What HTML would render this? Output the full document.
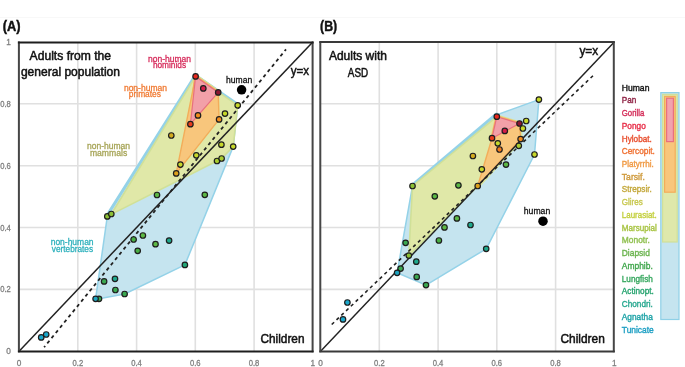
<!DOCTYPE html>
<html><head><meta charset="utf-8"><style>
html,body{margin:0;padding:0;background:#fff;width:685px;height:367px;overflow:hidden}
svg{display:block;font-family:"Liberation Sans",sans-serif;will-change:transform}
</style></head><body>
<svg width="685" height="367" viewBox="0 0 685 367">
<rect width="685" height="367" fill="#fff"/>
<line x1="0" y1="17.5" x2="685" y2="17.5" stroke="#f8f8f8" stroke-width="1"/>
<line x1="77.8" y1="42.0" x2="77.8" y2="351.2" stroke="#e0e0e0" stroke-width="1.6"/>
<line x1="19.1" y1="289.4" x2="312.8" y2="289.4" stroke="#e0e0e0" stroke-width="1.6"/>
<line x1="136.6" y1="42.0" x2="136.6" y2="351.2" stroke="#e0e0e0" stroke-width="1.6"/>
<line x1="19.1" y1="227.5" x2="312.8" y2="227.5" stroke="#e0e0e0" stroke-width="1.6"/>
<line x1="195.3" y1="42.0" x2="195.3" y2="351.2" stroke="#e0e0e0" stroke-width="1.6"/>
<line x1="19.1" y1="165.7" x2="312.8" y2="165.7" stroke="#e0e0e0" stroke-width="1.6"/>
<line x1="254.1" y1="42.0" x2="254.1" y2="351.2" stroke="#e0e0e0" stroke-width="1.6"/>
<line x1="19.1" y1="103.8" x2="312.8" y2="103.8" stroke="#e0e0e0" stroke-width="1.6"/>
<polyline points="237.7,105.3 195.6,76.4 107.3,216.4" fill="none" stroke="#94d2e8" stroke-width="4.6" stroke-linejoin="round" stroke-linecap="round"/>
<polygon points="195.6,76.4 237.7,105.3 233.2,146.6 184.9,264.9 124.6,294.0 99.0,298.8 95.6,298.8 107.3,216.4" fill="#c5e4ef" stroke="#94d2e8" stroke-width="1.5" stroke-linejoin="round"/>
<polygon points="195.6,76.4 218.2,92.4 219.1,119.4 176.2,173.4" fill="none" stroke="#d6e49e" stroke-width="4.5" stroke-linejoin="round"/>
<polygon points="195.6,76.4 237.7,105.3 233.2,146.6 221.6,158.5 217.0,161.0 107.3,216.4 111.3,214.0" fill="#e0e8a8" stroke="#d0e098" stroke-width="1.6" stroke-linejoin="round"/>
<polygon points="195.6,76.4 218.2,92.4 190.4,124.2" fill="none" stroke="#f5b866" stroke-width="3.0" stroke-linejoin="round"/>
<polygon points="195.6,76.4 218.2,92.4 219.1,119.4 176.2,173.4" fill="#f8c67c" stroke="#f3ad5a" stroke-width="1.4" stroke-linejoin="round"/>
<polygon points="195.6,76.4 218.2,92.4 190.4,124.2" fill="#f2a0a8" stroke="#e8707e" stroke-width="1.2" stroke-linejoin="round"/>
<line x1="19.1" y1="351.2" x2="312.8" y2="42.0" stroke="#222" stroke-width="1.5"/>
<line x1="44.1" y1="347.3" x2="286.0" y2="49.4" stroke="#222" stroke-width="1.8" stroke-dasharray="3.4 3.325" stroke-dashoffset="1.7"/>
<circle cx="195.6" cy="76.4" r="2.75" fill="#e8281e" stroke="#1e1e1e" stroke-width="1.2"/>
<circle cx="203.3" cy="88.4" r="2.75" fill="#d41c48" stroke="#1e1e1e" stroke-width="1.2"/>
<circle cx="218.2" cy="92.4" r="2.75" fill="#8c1630" stroke="#1e1e1e" stroke-width="1.2"/>
<circle cx="190.4" cy="124.2" r="2.75" fill="#ea3c1c" stroke="#1e1e1e" stroke-width="1.2"/>
<circle cx="198.0" cy="115.4" r="2.75" fill="#f28c1c" stroke="#1e1e1e" stroke-width="1.2"/>
<circle cx="219.1" cy="119.4" r="2.75" fill="#f28c1c" stroke="#1e1e1e" stroke-width="1.2"/>
<circle cx="176.2" cy="173.4" r="2.75" fill="#dca01c" stroke="#1e1e1e" stroke-width="1.2"/>
<circle cx="171.3" cy="135.5" r="2.75" fill="#d2aa1e" stroke="#1e1e1e" stroke-width="1.2"/>
<circle cx="237.7" cy="105.3" r="2.75" fill="#c6d82a" stroke="#1e1e1e" stroke-width="1.2"/>
<circle cx="225.0" cy="113.6" r="2.75" fill="#c6d82a" stroke="#1e1e1e" stroke-width="1.2"/>
<circle cx="221.4" cy="144.7" r="2.75" fill="#c6d82a" stroke="#1e1e1e" stroke-width="1.2"/>
<circle cx="233.2" cy="146.6" r="2.75" fill="#c6d82a" stroke="#1e1e1e" stroke-width="1.2"/>
<circle cx="196.3" cy="155.3" r="2.75" fill="#c6d82a" stroke="#1e1e1e" stroke-width="1.2"/>
<circle cx="180.4" cy="164.6" r="2.75" fill="#c6d82a" stroke="#1e1e1e" stroke-width="1.2"/>
<circle cx="217.0" cy="161.0" r="2.75" fill="#a8cc30" stroke="#1e1e1e" stroke-width="1.2"/>
<circle cx="221.6" cy="158.5" r="2.75" fill="#a8cc30" stroke="#1e1e1e" stroke-width="1.2"/>
<circle cx="107.3" cy="216.4" r="2.75" fill="#8cc034" stroke="#1e1e1e" stroke-width="1.2"/>
<circle cx="111.3" cy="214.0" r="2.75" fill="#8cc034" stroke="#1e1e1e" stroke-width="1.2"/>
<circle cx="157.0" cy="195.0" r="2.75" fill="#5cb845" stroke="#1e1e1e" stroke-width="1.2"/>
<circle cx="204.8" cy="194.8" r="2.75" fill="#5cb845" stroke="#1e1e1e" stroke-width="1.2"/>
<circle cx="133.6" cy="239.5" r="2.75" fill="#48ae44" stroke="#1e1e1e" stroke-width="1.2"/>
<circle cx="142.9" cy="235.5" r="2.75" fill="#5cb845" stroke="#1e1e1e" stroke-width="1.2"/>
<circle cx="137.7" cy="250.8" r="2.75" fill="#48ae44" stroke="#1e1e1e" stroke-width="1.2"/>
<circle cx="155.5" cy="244.2" r="2.75" fill="#5cb845" stroke="#1e1e1e" stroke-width="1.2"/>
<circle cx="169.1" cy="240.6" r="2.75" fill="#1ea88c" stroke="#1e1e1e" stroke-width="1.2"/>
<circle cx="184.9" cy="264.9" r="2.75" fill="#22a878" stroke="#1e1e1e" stroke-width="1.2"/>
<circle cx="104.1" cy="281.4" r="2.75" fill="#3aa850" stroke="#1e1e1e" stroke-width="1.2"/>
<circle cx="115.0" cy="278.8" r="2.75" fill="#1ea88c" stroke="#1e1e1e" stroke-width="1.2"/>
<circle cx="115.4" cy="290.0" r="2.75" fill="#3aa850" stroke="#1e1e1e" stroke-width="1.2"/>
<circle cx="124.6" cy="294.0" r="2.75" fill="#3aa850" stroke="#1e1e1e" stroke-width="1.2"/>
<circle cx="99.0" cy="298.8" r="2.75" fill="#3aa850" stroke="#1e1e1e" stroke-width="1.2"/>
<circle cx="95.6" cy="298.8" r="2.75" fill="#1ea4c0" stroke="#1e1e1e" stroke-width="1.2"/>
<circle cx="41.2" cy="337.4" r="2.75" fill="#1aa8cc" stroke="#1e1e1e" stroke-width="1.2"/>
<circle cx="46.2" cy="334.5" r="2.75" fill="#1aa8cc" stroke="#1e1e1e" stroke-width="1.2"/>
<circle cx="241.6" cy="89.8" r="4.75" fill="#000"/>
<text x="226.0" y="83.4" font-size="9.3" textLength="26.2" lengthAdjust="spacingAndGlyphs" fill="#111" stroke="#111" stroke-width="0.3">human</text>
<line x1="18.9" y1="41.4" x2="18.9" y2="352.3" stroke="#464646" stroke-width="2"/>
<line x1="312.6" y1="41.4" x2="312.6" y2="352.3" stroke="#464646" stroke-width="2"/>
<line x1="17.9" y1="42.4" x2="313.6" y2="42.4" stroke="#1e1e1e" stroke-width="2"/>
<line x1="17.9" y1="351.6" x2="313.6" y2="351.6" stroke="#1e1e1e" stroke-width="2"/>
<line x1="379.3" y1="42.0" x2="379.3" y2="351.2" stroke="#e0e0e0" stroke-width="1.6"/>
<line x1="320.6" y1="289.4" x2="614.3" y2="289.4" stroke="#e0e0e0" stroke-width="1.6"/>
<line x1="438.1" y1="42.0" x2="438.1" y2="351.2" stroke="#e0e0e0" stroke-width="1.6"/>
<line x1="320.6" y1="227.5" x2="614.3" y2="227.5" stroke="#e0e0e0" stroke-width="1.6"/>
<line x1="496.8" y1="42.0" x2="496.8" y2="351.2" stroke="#e0e0e0" stroke-width="1.6"/>
<line x1="320.6" y1="165.7" x2="614.3" y2="165.7" stroke="#e0e0e0" stroke-width="1.6"/>
<line x1="555.6" y1="42.0" x2="555.6" y2="351.2" stroke="#e0e0e0" stroke-width="1.6"/>
<line x1="320.6" y1="103.8" x2="614.3" y2="103.8" stroke="#e0e0e0" stroke-width="1.6"/>
<polyline points="496.4,115.0 412.5,186.0" fill="none" stroke="#94d2e8" stroke-width="4.6" stroke-linejoin="round" stroke-linecap="round"/>
<polygon points="496.4,115.0 538.9,99.6 534.5,154.5 486.2,248.8 426.0,285.1 397.1,272.8 412.5,186.0" fill="#c5e4ef" stroke="#94d2e8" stroke-width="1.5" stroke-linejoin="round"/>
<polygon points="496.8,116.7 519.5,123.5 520.6,139.1 477.7,186.0 492.0,138.2" fill="none" stroke="#d6e49e" stroke-width="4.5" stroke-linejoin="round"/>
<polygon points="496.8,116.7 519.5,123.5 520.6,139.1 477.7,186.0 408.8,255.6 412.5,186.0" fill="#e0e8a8" stroke="#d0e098" stroke-width="1.6" stroke-linejoin="round"/>
<polygon points="496.8,116.7 519.5,123.5 492.0,138.2" fill="none" stroke="#f5b866" stroke-width="3.0" stroke-linejoin="round"/>
<polygon points="496.8,116.7 519.5,123.5 520.6,139.1 477.7,186.0 492.0,138.2" fill="#f8c67c" stroke="#f3ad5a" stroke-width="1.4" stroke-linejoin="round"/>
<polygon points="496.8,116.7 519.5,123.5 492.0,138.2" fill="#f2a0a8" stroke="#e8707e" stroke-width="1.2" stroke-linejoin="round"/>
<line x1="320.6" y1="351.2" x2="614.3" y2="42.0" stroke="#222" stroke-width="1.45"/>
<line x1="331.4" y1="324.8" x2="593.5" y2="75.2" stroke="#222" stroke-width="1.6" stroke-dasharray="3.3 3.32" stroke-dashoffset="6.2"/>
<circle cx="496.8" cy="116.7" r="2.75" fill="#e8281e" stroke="#1e1e1e" stroke-width="1.2"/>
<circle cx="519.5" cy="123.5" r="2.75" fill="#8c1630" stroke="#1e1e1e" stroke-width="1.2"/>
<circle cx="504.8" cy="130.9" r="2.75" fill="#d41c48" stroke="#1e1e1e" stroke-width="1.2"/>
<circle cx="492.0" cy="138.2" r="2.75" fill="#ea3c1c" stroke="#1e1e1e" stroke-width="1.2"/>
<circle cx="520.6" cy="139.1" r="2.75" fill="#f28c1c" stroke="#1e1e1e" stroke-width="1.2"/>
<circle cx="499.5" cy="149.5" r="2.75" fill="#f07a1c" stroke="#1e1e1e" stroke-width="1.2"/>
<circle cx="477.7" cy="186.0" r="2.75" fill="#dca01c" stroke="#1e1e1e" stroke-width="1.2"/>
<circle cx="538.9" cy="99.6" r="2.75" fill="#c6d82a" stroke="#1e1e1e" stroke-width="1.2"/>
<circle cx="526.2" cy="121.0" r="2.75" fill="#c6d82a" stroke="#1e1e1e" stroke-width="1.2"/>
<circle cx="522.9" cy="128.5" r="2.75" fill="#c6d82a" stroke="#1e1e1e" stroke-width="1.2"/>
<circle cx="497.8" cy="143.3" r="2.75" fill="#c6d82a" stroke="#1e1e1e" stroke-width="1.2"/>
<circle cx="518.8" cy="145.8" r="2.75" fill="#a8cc30" stroke="#1e1e1e" stroke-width="1.2"/>
<circle cx="472.9" cy="156.0" r="2.75" fill="#d2aa1e" stroke="#1e1e1e" stroke-width="1.2"/>
<circle cx="534.5" cy="154.5" r="2.75" fill="#c6d82a" stroke="#1e1e1e" stroke-width="1.2"/>
<circle cx="481.8" cy="169.3" r="2.75" fill="#c6d82a" stroke="#1e1e1e" stroke-width="1.2"/>
<circle cx="506.0" cy="164.6" r="2.75" fill="#5cb845" stroke="#1e1e1e" stroke-width="1.2"/>
<circle cx="458.4" cy="185.3" r="2.75" fill="#5cb845" stroke="#1e1e1e" stroke-width="1.2"/>
<circle cx="412.5" cy="186.0" r="2.75" fill="#8cc034" stroke="#1e1e1e" stroke-width="1.2"/>
<circle cx="434.8" cy="196.3" r="2.75" fill="#5cb845" stroke="#1e1e1e" stroke-width="1.2"/>
<circle cx="456.9" cy="218.4" r="2.75" fill="#5cb845" stroke="#1e1e1e" stroke-width="1.2"/>
<circle cx="444.5" cy="227.4" r="2.75" fill="#5cb845" stroke="#1e1e1e" stroke-width="1.2"/>
<circle cx="470.5" cy="225.0" r="2.75" fill="#1ea88c" stroke="#1e1e1e" stroke-width="1.2"/>
<circle cx="438.9" cy="240.5" r="2.75" fill="#48ae44" stroke="#1e1e1e" stroke-width="1.2"/>
<circle cx="486.2" cy="248.8" r="2.75" fill="#1ea88c" stroke="#1e1e1e" stroke-width="1.2"/>
<circle cx="405.6" cy="242.8" r="2.75" fill="#3aa850" stroke="#1e1e1e" stroke-width="1.2"/>
<circle cx="408.8" cy="255.6" r="2.75" fill="#8cc034" stroke="#1e1e1e" stroke-width="1.2"/>
<circle cx="416.3" cy="261.7" r="2.75" fill="#1ea88c" stroke="#1e1e1e" stroke-width="1.2"/>
<circle cx="400.6" cy="268.6" r="2.75" fill="#3aa850" stroke="#1e1e1e" stroke-width="1.2"/>
<circle cx="397.1" cy="272.8" r="2.75" fill="#1ea4c0" stroke="#1e1e1e" stroke-width="1.2"/>
<circle cx="416.7" cy="276.9" r="2.75" fill="#3aa850" stroke="#1e1e1e" stroke-width="1.2"/>
<circle cx="426.0" cy="285.1" r="2.75" fill="#3aa850" stroke="#1e1e1e" stroke-width="1.2"/>
<circle cx="347.4" cy="302.5" r="2.75" fill="#1aa8cc" stroke="#1e1e1e" stroke-width="1.2"/>
<circle cx="343.0" cy="319.4" r="2.75" fill="#1aa8cc" stroke="#1e1e1e" stroke-width="1.2"/>
<circle cx="543.0" cy="221.2" r="4.75" fill="#000"/>
<text x="523.8" y="214.0" font-size="9.3" textLength="26.4" lengthAdjust="spacingAndGlyphs" fill="#111" stroke="#111" stroke-width="0.3">human</text>
<line x1="320.3" y1="41.4" x2="320.3" y2="352.3" stroke="#464646" stroke-width="2"/>
<line x1="613.8" y1="41.4" x2="613.8" y2="352.3" stroke="#464646" stroke-width="2"/>
<line x1="319.3" y1="41.9" x2="614.8" y2="41.9" stroke="#3a3a3a" stroke-width="2"/>
<line x1="319.3" y1="351.5" x2="614.8" y2="351.5" stroke="#3a3a3a" stroke-width="2"/>
<text x="16.8" y="365.6" font-size="8.8" textLength="4.6" lengthAdjust="spacingAndGlyphs" fill="#7f7f7f" stroke="#7f7f7f" stroke-width="0.3" text-anchor="start" font-weight="normal">0</text>
<text x="318.3" y="365.6" font-size="8.8" textLength="4.6" lengthAdjust="spacingAndGlyphs" fill="#7f7f7f" stroke="#7f7f7f" stroke-width="0.3" text-anchor="start" font-weight="normal">0</text>
<text x="6.200000000000001" y="354.3" font-size="8.8" textLength="4.6" lengthAdjust="spacingAndGlyphs" fill="#7f7f7f" stroke="#7f7f7f" stroke-width="0.3" text-anchor="start" font-weight="normal">0</text>
<text x="72.54" y="365.6" font-size="8.8" textLength="10.6" lengthAdjust="spacingAndGlyphs" fill="#7f7f7f" stroke="#7f7f7f" stroke-width="0.3" text-anchor="start" font-weight="normal">0.2</text>
<text x="374.04" y="365.6" font-size="8.8" textLength="10.6" lengthAdjust="spacingAndGlyphs" fill="#7f7f7f" stroke="#7f7f7f" stroke-width="0.3" text-anchor="start" font-weight="normal">0.2</text>
<text x="0.20000000000000107" y="292.46000000000004" font-size="8.8" textLength="10.6" lengthAdjust="spacingAndGlyphs" fill="#7f7f7f" stroke="#7f7f7f" stroke-width="0.3" text-anchor="start" font-weight="normal">0.2</text>
<text x="131.28" y="365.6" font-size="8.8" textLength="10.6" lengthAdjust="spacingAndGlyphs" fill="#7f7f7f" stroke="#7f7f7f" stroke-width="0.3" text-anchor="start" font-weight="normal">0.4</text>
<text x="432.78" y="365.6" font-size="8.8" textLength="10.6" lengthAdjust="spacingAndGlyphs" fill="#7f7f7f" stroke="#7f7f7f" stroke-width="0.3" text-anchor="start" font-weight="normal">0.4</text>
<text x="0.20000000000000107" y="230.61999999999998" font-size="8.8" textLength="10.6" lengthAdjust="spacingAndGlyphs" fill="#7f7f7f" stroke="#7f7f7f" stroke-width="0.3" text-anchor="start" font-weight="normal">0.4</text>
<text x="190.02" y="365.6" font-size="8.8" textLength="10.6" lengthAdjust="spacingAndGlyphs" fill="#7f7f7f" stroke="#7f7f7f" stroke-width="0.3" text-anchor="start" font-weight="normal">0.6</text>
<text x="491.52000000000004" y="365.6" font-size="8.8" textLength="10.6" lengthAdjust="spacingAndGlyphs" fill="#7f7f7f" stroke="#7f7f7f" stroke-width="0.3" text-anchor="start" font-weight="normal">0.6</text>
<text x="0.20000000000000107" y="168.77999999999997" font-size="8.8" textLength="10.6" lengthAdjust="spacingAndGlyphs" fill="#7f7f7f" stroke="#7f7f7f" stroke-width="0.3" text-anchor="start" font-weight="normal">0.6</text>
<text x="248.76" y="365.6" font-size="8.8" textLength="10.6" lengthAdjust="spacingAndGlyphs" fill="#7f7f7f" stroke="#7f7f7f" stroke-width="0.3" text-anchor="start" font-weight="normal">0.8</text>
<text x="550.26" y="365.6" font-size="8.8" textLength="10.6" lengthAdjust="spacingAndGlyphs" fill="#7f7f7f" stroke="#7f7f7f" stroke-width="0.3" text-anchor="start" font-weight="normal">0.8</text>
<text x="0.20000000000000107" y="106.93999999999997" font-size="8.8" textLength="10.6" lengthAdjust="spacingAndGlyphs" fill="#7f7f7f" stroke="#7f7f7f" stroke-width="0.3" text-anchor="start" font-weight="normal">0.8</text>
<text x="310.5" y="365.6" font-size="8.8" textLength="4.6" lengthAdjust="spacingAndGlyphs" fill="#7f7f7f" stroke="#7f7f7f" stroke-width="0.3" text-anchor="start" font-weight="normal">1</text>
<text x="612.0" y="365.6" font-size="8.8" textLength="4.6" lengthAdjust="spacingAndGlyphs" fill="#7f7f7f" stroke="#7f7f7f" stroke-width="0.3" text-anchor="start" font-weight="normal">1</text>
<text x="6.200000000000001" y="45.1" font-size="8.8" textLength="4.6" lengthAdjust="spacingAndGlyphs" fill="#7f7f7f" stroke="#7f7f7f" stroke-width="0.3" text-anchor="start" font-weight="normal">1</text>
<text x="2.7" y="31.0" font-size="14" textLength="17.8" lengthAdjust="spacingAndGlyphs" fill="#111" stroke="#111" stroke-width="0.45" text-anchor="start" font-weight="bold">(A)</text>
<text x="320.1" y="31.0" font-size="14" textLength="17.1" lengthAdjust="spacingAndGlyphs" fill="#111" stroke="#111" stroke-width="0.45" text-anchor="start" font-weight="bold">(B)</text>
<text x="29.6" y="60.4" font-size="12.3" textLength="81.5" lengthAdjust="spacingAndGlyphs" fill="#111" stroke="#111" stroke-width="0.5" text-anchor="start" font-weight="normal">Adults from the</text>
<text x="20.9" y="76.1" font-size="12.3" textLength="99.1" lengthAdjust="spacingAndGlyphs" fill="#111" stroke="#111" stroke-width="0.5" text-anchor="start" font-weight="normal">general population</text>
<text x="328.9" y="60.2" font-size="12.3" textLength="58.1" lengthAdjust="spacingAndGlyphs" fill="#111" stroke="#111" stroke-width="0.5" text-anchor="start" font-weight="normal">Adults with</text>
<text x="347.8" y="76.8" font-size="12.3" textLength="20.3" lengthAdjust="spacingAndGlyphs" fill="#111" stroke="#111" stroke-width="0.5" text-anchor="start" font-weight="normal">ASD</text>
<text x="260.5" y="342.9" font-size="12.3" textLength="44.0" lengthAdjust="spacingAndGlyphs" fill="#111" stroke="#111" stroke-width="0.5" text-anchor="start" font-weight="normal">Children</text>
<text x="560.5" y="342.9" font-size="12.3" textLength="44.3" lengthAdjust="spacingAndGlyphs" fill="#111" stroke="#111" stroke-width="0.5" text-anchor="start" font-weight="normal">Children</text>
<text x="290.7" y="74.6" font-size="12" textLength="18.4" lengthAdjust="spacingAndGlyphs" fill="#111" stroke="#111" stroke-width="0.45" text-anchor="start" font-weight="normal">y=x</text>
<text x="579.4" y="55.0" font-size="12" textLength="18.8" lengthAdjust="spacingAndGlyphs" fill="#111" stroke="#111" stroke-width="0.45" text-anchor="start" font-weight="normal">y=x</text>
<text x="148.0" y="61.9" font-size="9.2" textLength="43.0" lengthAdjust="spacingAndGlyphs" fill="#d62a5a" stroke="#d62a5a" stroke-width="0.3" text-anchor="start" font-weight="normal">non-human</text>
<text x="152.9" y="67.9" font-size="9.2" textLength="33.2" lengthAdjust="spacingAndGlyphs" fill="#d62a5a" stroke="#d62a5a" stroke-width="0.3" text-anchor="start" font-weight="normal">hominids</text>
<text x="123.9" y="90.5" font-size="9.2" textLength="43.1" lengthAdjust="spacingAndGlyphs" fill="#f07a32" stroke="#f07a32" stroke-width="0.3" text-anchor="start" font-weight="normal">non-human</text>
<text x="128.8" y="96.5" font-size="9.2" textLength="32.2" lengthAdjust="spacingAndGlyphs" fill="#f07a32" stroke="#f07a32" stroke-width="0.3" text-anchor="start" font-weight="normal">primates</text>
<text x="86.9" y="149.3" font-size="9.2" textLength="43.2" lengthAdjust="spacingAndGlyphs" fill="#a6a456" stroke="#a6a456" stroke-width="0.3" text-anchor="start" font-weight="normal">non-human</text>
<text x="89.9" y="156.0" font-size="9.2" textLength="37.3" lengthAdjust="spacingAndGlyphs" fill="#a6a456" stroke="#a6a456" stroke-width="0.3" text-anchor="start" font-weight="normal">mammals</text>
<text x="50.7" y="244.9" font-size="9.2" textLength="42.9" lengthAdjust="spacingAndGlyphs" fill="#2cb0bc" stroke="#2cb0bc" stroke-width="0.3" text-anchor="start" font-weight="normal">non-human</text>
<text x="51.8" y="251.5" font-size="9.2" textLength="41.3" lengthAdjust="spacingAndGlyphs" fill="#2cb0bc" stroke="#2cb0bc" stroke-width="0.3" text-anchor="start" font-weight="normal">vertebrates</text>
<text x="621.8" y="90.5" font-size="9.4" textLength="27.6" lengthAdjust="spacingAndGlyphs" fill="#111" stroke="#111" stroke-width="0.4" text-anchor="start" font-weight="normal">Human</text>
<text x="621.8" y="103.2" font-size="9.4" textLength="14.5" lengthAdjust="spacingAndGlyphs" fill="#8e2244" stroke="#8e2244" stroke-width="0.4" text-anchor="start" font-weight="normal">Pan</text>
<text x="621.8" y="116.0" font-size="9.4" textLength="22.5" lengthAdjust="spacingAndGlyphs" fill="#d42c58" stroke="#d42c58" stroke-width="0.4" text-anchor="start" font-weight="normal">Gorilla</text>
<text x="621.8" y="128.7" font-size="9.4" textLength="24" lengthAdjust="spacingAndGlyphs" fill="#e8304a" stroke="#e8304a" stroke-width="0.4" text-anchor="start" font-weight="normal">Pongo</text>
<text x="621.8" y="141.5" font-size="9.4" textLength="30" lengthAdjust="spacingAndGlyphs" fill="#e85030" stroke="#e85030" stroke-width="0.4" text-anchor="start" font-weight="normal">Hylobat.</text>
<text x="621.8" y="154.2" font-size="9.4" textLength="33" lengthAdjust="spacingAndGlyphs" fill="#f07234" stroke="#f07234" stroke-width="0.4" text-anchor="start" font-weight="normal">Cercopit.</text>
<text x="621.8" y="166.9" font-size="9.4" textLength="32" lengthAdjust="spacingAndGlyphs" fill="#f09a44" stroke="#f09a44" stroke-width="0.4" text-anchor="start" font-weight="normal">Platyrrhi.</text>
<text x="621.8" y="179.7" font-size="9.4" textLength="23" lengthAdjust="spacingAndGlyphs" fill="#cf9a3c" stroke="#cf9a3c" stroke-width="0.4" text-anchor="start" font-weight="normal">Tarsif.</text>
<text x="621.8" y="192.4" font-size="9.4" textLength="30" lengthAdjust="spacingAndGlyphs" fill="#c4a83c" stroke="#c4a83c" stroke-width="0.4" text-anchor="start" font-weight="normal">Strepsir.</text>
<text x="621.8" y="205.2" font-size="9.4" textLength="21" lengthAdjust="spacingAndGlyphs" fill="#c8c850" stroke="#c8c850" stroke-width="0.4" text-anchor="start" font-weight="normal">Glires</text>
<text x="621.8" y="217.9" font-size="9.4" textLength="35" lengthAdjust="spacingAndGlyphs" fill="#c4d040" stroke="#c4d040" stroke-width="0.4" text-anchor="start" font-weight="normal">Laurasiat.</text>
<text x="621.8" y="230.6" font-size="9.4" textLength="35" lengthAdjust="spacingAndGlyphs" fill="#a8c444" stroke="#a8c444" stroke-width="0.4" text-anchor="start" font-weight="normal">Marsupial</text>
<text x="621.8" y="243.4" font-size="9.4" textLength="28" lengthAdjust="spacingAndGlyphs" fill="#90c050" stroke="#90c050" stroke-width="0.4" text-anchor="start" font-weight="normal">Monotr.</text>
<text x="621.8" y="256.1" font-size="9.4" textLength="28" lengthAdjust="spacingAndGlyphs" fill="#6cb450" stroke="#6cb450" stroke-width="0.4" text-anchor="start" font-weight="normal">Diapsid</text>
<text x="621.8" y="268.9" font-size="9.4" textLength="31" lengthAdjust="spacingAndGlyphs" fill="#44a850" stroke="#44a850" stroke-width="0.4" text-anchor="start" font-weight="normal">Amphib.</text>
<text x="621.8" y="281.6" font-size="9.4" textLength="31" lengthAdjust="spacingAndGlyphs" fill="#38a860" stroke="#38a860" stroke-width="0.4" text-anchor="start" font-weight="normal">Lungfish</text>
<text x="621.8" y="294.3" font-size="9.4" textLength="32" lengthAdjust="spacingAndGlyphs" fill="#28a470" stroke="#28a470" stroke-width="0.4" text-anchor="start" font-weight="normal">Actinopt.</text>
<text x="621.8" y="307.1" font-size="9.4" textLength="31" lengthAdjust="spacingAndGlyphs" fill="#28a890" stroke="#28a890" stroke-width="0.4" text-anchor="start" font-weight="normal">Chondri.</text>
<text x="621.8" y="319.8" font-size="9.4" textLength="31" lengthAdjust="spacingAndGlyphs" fill="#20a4a8" stroke="#20a4a8" stroke-width="0.4" text-anchor="start" font-weight="normal">Agnatha</text>
<text x="621.8" y="332.6" font-size="9.4" textLength="32" lengthAdjust="spacingAndGlyphs" fill="#20a0c4" stroke="#20a0c4" stroke-width="0.4" text-anchor="start" font-weight="normal">Tunicate</text>
<rect x="660.8" y="92.6" width="18.2" height="226.9" fill="#c5e4ef" stroke="#8fd0e6" stroke-width="1.2"/>
<rect x="662.6" y="94.4" width="14.6" height="147.6" fill="#dfe8ab" stroke="#cfe09a" stroke-width="1.2"/>
<rect x="664.6" y="96.4" width="10.6" height="95.8" fill="#f8c67c" stroke="#f3ad5a" stroke-width="1.2"/>
<rect x="666.6" y="98.2" width="6.8" height="43.4" fill="#f2a3ae" stroke="#e8707e" stroke-width="1.2"/>
</svg>
</body></html>
